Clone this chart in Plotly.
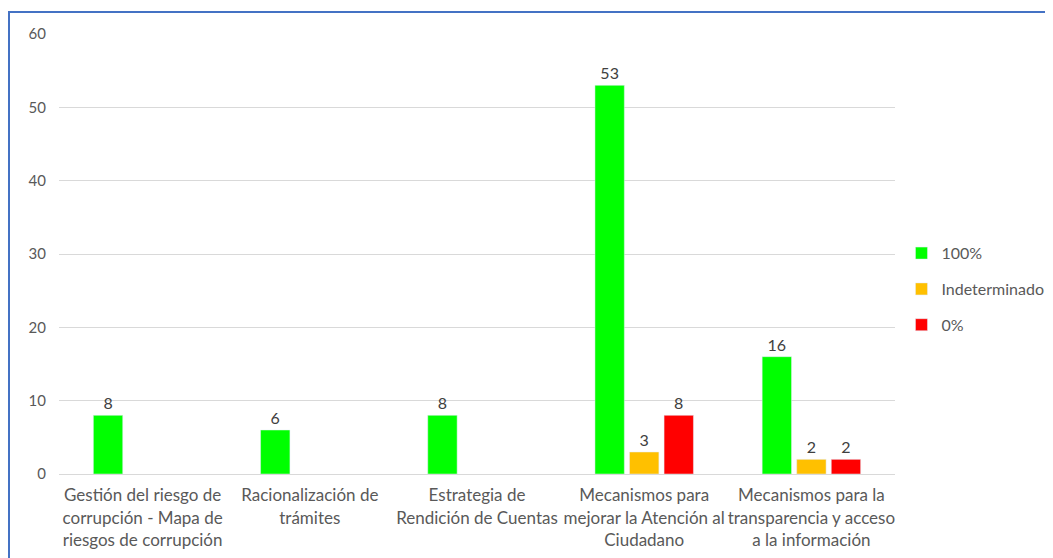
import plotly.graph_objects as go

categories = [
    "Gestión del riesgo de<br>corrupción - Mapa de<br>riesgos de corrupción",
    "Racionalización de<br>trámites",
    "Estrategia de<br>Rendición de Cuentas",
    "Mecanismos para<br>mejorar la Atención al<br>Ciudadano",
    "Mecanismos para la<br>transparencia y acceso<br>a la información",
]
serie_100 = [8, 6, 8, 53, 16]
serie_indet = [None, None, None, 3, 2]
serie_0 = [None, None, None, 8, 2]
y_ticks = [0, 10, 20, 30, 40, 50, 60]

FONT = "Lato, 'Open Sans', sans-serif"
fig = go.Figure()
for name, vals, color in [("100%", serie_100, "#00FF00"),
                          ("Indeterminado", serie_indet, "#FFC000"),
                          ("0%", serie_0, "#FF0000")]:
    fig.add_trace(go.Bar(
        x=categories, y=vals, name=name, marker_color=color,
        legendgroup=name,
        text=[("" if v is None else str(v)) for v in vals],
        textposition="outside", cliponaxis=False,
        textfont=dict(size=16, color="#404040", family=FONT),
    ))

# the page body has an 8px margin, so offsets are compensated
fig.update_layout(
    width=1045, height=550,
    margin=dict(l=51, r=158, t=26, b=84, autoexpand=False),
    paper_bgcolor="white", plot_bgcolor="white",
    barmode="group", bargap=0.38, bargroupgap=0.15,
    font=dict(family=FONT, size=16, color="#595959"),
    showlegend=True,
    legend=dict(xref="container", yref="paper", x=0.855, y=0.42,
                yanchor="middle", xanchor="left",
                font=dict(size=16, color="#595959"),
                traceorder="grouped", tracegroupgap=12, itemwidth=30),
    xaxis=dict(showgrid=False, showline=True, linecolor="#d9d9d9",
               ticks="", tickangle=0, automargin=False, ticklabelstandoff=6,
               tickfont=dict(size=17, color="#595959")),
    yaxis=dict(range=[0, 60], tickvals=y_ticks, showgrid=True,
               gridcolor="#d9d9d9", zeroline=False, showline=False,
               automargin=False,
               tickfont=dict(size=15, color="#595959"), ticklabelstandoff=12),
    shapes=[dict(type="rect", xref="paper", yref="paper",
                 x0=(9 - 59) / 836, x1=(1080 - 59) / 836,
                 y0=-0.3, y1=(474 - 12) / 440,
                 line=dict(color="#4472C4", width=2), layer="below")],
)
fig.write_html("out.html")
